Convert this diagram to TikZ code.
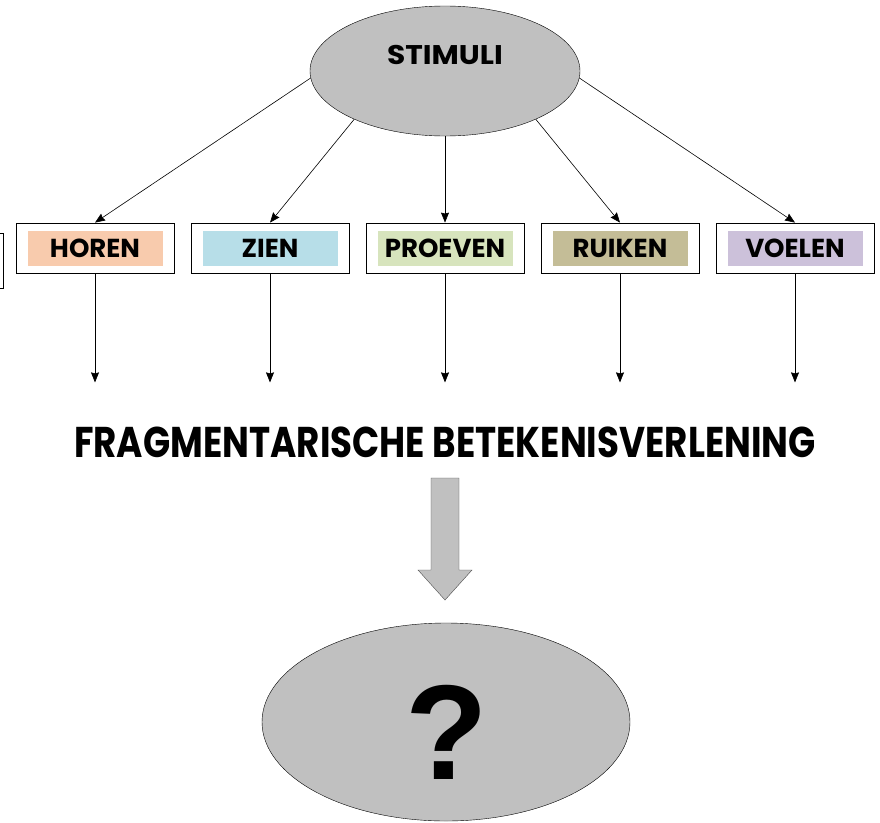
\documentclass[tikz,border=0pt]{standalone}
\usepackage{fontspec}
\setsansfont{Poppins}
\newfontfamily\qfont{Liberation Sans}
\usepackage{tikz}
\usetikzlibrary{calc, arrows.meta, shapes.geometric, positioning}

\definecolor{ellgray}{HTML}{C0C0C0}
\definecolor{peach}{HTML}{F8CBAD}
\definecolor{skyblue}{HTML}{B7DEE8}
\definecolor{sage}{HTML}{D7E4BD}
\definecolor{khaki}{HTML}{C4BD97}
\definecolor{lavender}{HTML}{CCC1DA}

\begin{document}
\begin{tikzpicture}[x=1pt, y=-1pt,
    bubble/.style={ellipse, draw, fill=ellgray, inner sep=0pt},
    outbox/.style={draw, thick, fill=white, minimum width=158pt, minimum height=50pt, inner sep=0pt},
    inbox/.style={minimum width=135pt, minimum height=35pt, inner sep=0pt,
        font=\sffamily\bfseries\fontsize{26}{26}\selectfont},
    arr/.style={semithick, -{Stealth[length=10pt, width=8pt, inset=1pt]}}
  ]
    \useasboundingbox (0,0) rectangle (880,822);

    % top ellipse
    \node[bubble, minimum width=270pt, minimum height=130pt] (stimuli) at (445,71) {};
    \node[font=\sffamily\bfseries\fontsize{27}{27}\selectfont] (stimulitxt) at (445,55)
        {\scalebox{1.1}[1]{STIMULI}};

    % cut off box at the left edge
    \draw[thick] (-100,233) rectangle (3,288);

    % the five senses
    \foreach \n/\t/\c [count=\i] in
    {horen/HOREN/peach,
     zien/ZIEN/skyblue,
     proeven/PROEVEN/sage,
     ruiken/RUIKEN/khaki,
     voelen/VOELEN/lavender}
    {
        \node[outbox] (\n) at ({95+175*(\i-1)},248) {};
        \node[inbox, fill=\c] (\n txt) at (\n) {\t};
        \coordinate (\n end) at ($(\n.south)+(0,109)$);
        \draw[arr] (\n.south) -- (\n end);
    };

    \foreach \n/\a in {horen/183, zien/208, proeven/270, ruiken/332, voelen/357}
    {
        \draw[arr] (stimuli.\a) -- (\n.north);
    };

    % title
    \node[font=\sffamily\bfseries\fontsize{43}{43}\selectfont] (frag) at (445,442)
        {\scalebox{0.83}[1]{FRAGMENTARISCHE BETEKENISVERLENING}};

    % block arrow
    \draw[fill=ellgray, draw=black!70] (431,478) -- (459,478) -- (459,570) -- (472,570)
        -- (445,600) -- (418,570) -- (431,570) -- cycle;

    % bottom ellipse
    \node[bubble, minimum width=368pt, minimum height=198pt] (unknown) at (446,722) {};
    \node[font=\qfont\bfseries\fontsize{135}{135}\selectfont] (qmark) at (447,732) {?};
\end{tikzpicture}
\end{document}
